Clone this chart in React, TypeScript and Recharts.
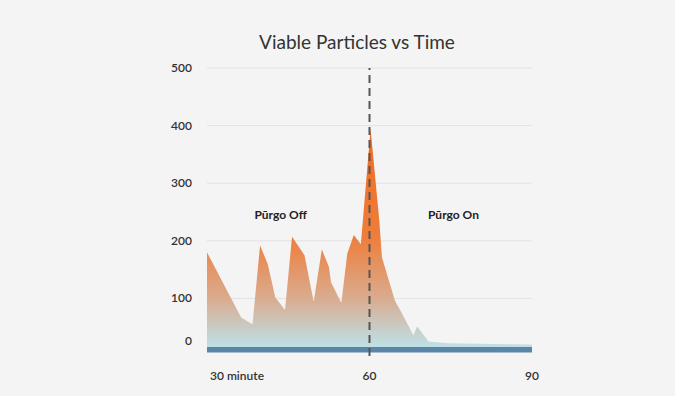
import React from "react";
import {
  AreaChart,
  Area,
  XAxis,
  YAxis,
  CartesianGrid,
  ReferenceLine,
  ReferenceArea,
  ReferenceDot,
} from "recharts";

// minutes since start and viable particle counts
const minutes = [
  30, 36.3, 38.4, 39.8, 41.2, 42.6, 44.4, 45.7, 48.0, 49.7, 51.2, 52.5, 52.9,
  54.8, 55.9, 57.1, 58.4, 60.2, 61.8, 62.3, 64.7, 66.0, 68.1, 68.8, 70.9, 74.4,
  90,
];
const particles = [
  180, 67, 55, 192, 160, 102, 80, 207, 175, 94, 185, 155, 128, 92, 178, 210,
  194, 394, 236, 171, 96, 74, 36, 51, 25, 22, 20,
];
const yTicks = [0, 100, 200, 300, 400, 500];
const xTicks = [30, 60, 90];
const xTickLabels: Record<number, string> = { 30: "30 minute", 60: "60", 90: "90" };

const data = minutes.map((m, i) => ({ minute: m, value: particles[i] }));

const FONT = "Lato, 'Open Sans', sans-serif";

const YTick = ({ x, y, payload }: any) => (
  <text
    x={x}
    y={payload.value === 0 ? y - 15 : y}
    dy={4}
    textAnchor="end"
    fontSize={12}
    fontWeight={600}
    fill="#333"
    fontFamily={FONT}
  >
    {payload.value}
  </text>
);

const XTick = ({ x, y, payload }: any) => (
  <text
    x={payload.value === 30 ? x + 3 : x}
    y={y}
    dy={16}
    textAnchor={payload.value === 30 ? "start" : "middle"}
    fontSize={12}
    fontWeight={600}
    fill="#333"
    fontFamily={FONT}
  >
    {xTickLabels[payload.value]}
  </text>
);

const phaseLabel = (text: string) => ({
  value: text,
  position: "center" as const,
  fontSize: 12,
  fontWeight: 700,
  fill: "#222",
  fontFamily: FONT,
});

export default function App() {
  return (
    <div
      style={{
        position: "fixed",
        inset: 0,
        background: "#f4f4f4",
        fontFamily: FONT,
      }}
    >
      <div
        style={{
          position: "absolute",
          left: 0,
          top: 30,
          width: 714,
          textAlign: "center",
          fontSize: 19,
          color: "#333",
        }}
      >
        Viable Particles vs Time
      </div>
      <div style={{ position: "absolute", left: 0, top: 0 }}>
        <AreaChart
          width={675}
          height={396}
          data={data}
          margin={{ top: 68, right: 143, bottom: 0, left: 0 }}
        >
          <defs>
            <linearGradient id="fillGrad" x1="0" y1="0" x2="0" y2="1">
              <stop offset="0%" stopColor="#f26a1e" />
              <stop offset="50%" stopColor="#ee7e3c" />
              <stop offset="78%" stopColor="#d9ac90" />
              <stop offset="100%" stopColor="#bde1e8" />
            </linearGradient>
          </defs>
          <CartesianGrid
            vertical={false}
            stroke="#e2e2e2"
            horizontalValues={[100, 200, 300, 400, 500]}
          />
          <XAxis
            dataKey="minute"
            type="number"
            domain={[30, 90]}
            ticks={xTicks}
            axisLine={false}
            tickLine={false}
            height={40}
            tick={<XTick />}
            interval={0}
          />
          <YAxis
            domain={[0, 500]}
            ticks={yTicks}
            axisLine={false}
            tickLine={false}
            width={207}
            tickMargin={9}
            tick={<YTick />}
            interval={0}
          />
          <ReferenceArea
            x1={30}
            x2={90}
            y1={6}
            y2={16}
            fill="#5a87a7"
            fillOpacity={1}
            stroke="none"
          />
          <Area
            type="linear"
            dataKey="value"
            baseValue={16}
            stroke="none"
            fill="url(#fillGrad)"
            fillOpacity={1}
            isAnimationActive={false}
            dot={false}
            activeDot={false}
          />
          <ReferenceLine
            x={60}
            stroke="#555"
            strokeWidth={2}
            strokeDasharray="8 5"
          />
          <ReferenceDot
            x={43.6}
            y={246}
            r={0}
            stroke="none"
            label={phaseLabel("Pūrgo Off")}
          />
          <ReferenceDot
            x={75.5}
            y={245}
            r={0}
            stroke="none"
            label={phaseLabel("Pūrgo On")}
          />
        </AreaChart>
      </div>
    </div>
  );
}
